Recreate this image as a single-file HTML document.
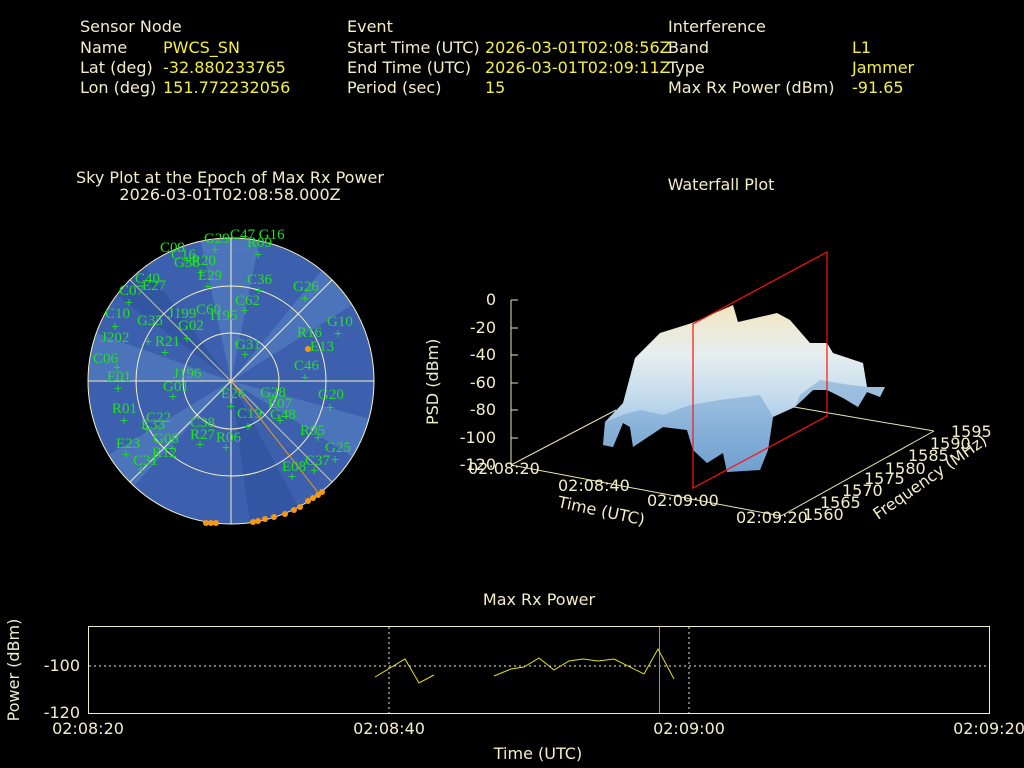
<!DOCTYPE html>
<html><head><meta charset="utf-8"><style>
body{margin:0;background:#000;width:1024px;height:768px;overflow:hidden;font-family:"DejaVu Sans","Liberation Sans",sans-serif}
svg{position:absolute;left:0;top:0}
</style></head><body>
<svg width="1024" height="768" viewBox="0 0 1024 768" font-family="DejaVu Sans, Liberation Sans, sans-serif">
<defs>
<linearGradient id="surf" x1="0" y1="0" x2="0" y2="1">
<stop offset="0" stop-color="#f3e6c0"/><stop offset="0.3" stop-color="#e6eef0"/><stop offset="0.6" stop-color="#bcd7ec"/><stop offset="1" stop-color="#6f9ecf"/>
</linearGradient>
<clipPath id="sky"><circle cx="231" cy="381" r="143"/></clipPath>
</defs>
<g font-size="16" fill="#f2eec8">
<text x="80" y="32">Sensor Node</text><text x="80" y="53">Name</text><text x="80" y="73">Lat (deg)</text><text x="80" y="93">Lon (deg)</text>
<text x="347" y="32">Event</text><text x="347" y="53">Start Time (UTC)</text><text x="347" y="73">End Time (UTC)</text><text x="347" y="93">Period (sec)</text>
<text x="668" y="32">Interference</text><text x="668" y="53">Band</text><text x="668" y="73">Type</text><text x="668" y="93">Max Rx Power (dBm)</text>
</g>
<g font-size="16" fill="#f5f03a">
<text x="163" y="53">PWCS_SN</text><text x="163" y="73">-32.880233765</text><text x="163" y="93">151.772232056</text>
<text x="485" y="53">2026-03-01T02:08:56Z</text><text x="485" y="73">2026-03-01T02:09:11Z</text><text x="485" y="93">15</text>
<text x="852" y="53">L1</text><text x="852" y="73">Jammer</text><text x="852" y="93">-91.65</text>
</g>
<g font-size="16" fill="#f2eec8" text-anchor="middle">
<text x="230" y="183">Sky Plot at the Epoch of Max Rx Power</text>
<text x="230" y="200">2026-03-01T02:08:58.000Z</text>
<text x="721" y="190">Waterfall Plot</text>
<text x="539" y="605">Max Rx Power</text>
<text x="538" y="759">Time (UTC)</text>
</g>
<!-- sky plot -->
<circle cx="231" cy="381" r="143" fill="#3c60ae"/>
<g clip-path="url(#sky)" opacity="0.55">
<path d="M231 381 L200 238 L260 238Z" fill="#5a86c6"/>
<path d="M231 381 L330 260 L360 300Z" fill="#5a86c6"/>
<path d="M231 381 L88 330 L88 380Z" fill="#5a86c6"/>
<path d="M231 381 L250 524 L300 510Z" fill="#2d4f9c"/>
<path d="M231 381 L100 460 L130 490Z" fill="#5a86c6"/>
<path d="M231 381 L374 420 L374 470Z" fill="#5a86c6"/>
<path d="M231 381 L140 260 L110 290Z" fill="#2d4f9c"/>
</g>
<g fill="none" stroke="#f7f2c0" stroke-width="1">
<circle cx="231" cy="381" r="143"/><circle cx="231" cy="381" r="95"/><circle cx="231" cy="381" r="48"/>
<line x1="88" y1="381" x2="374" y2="381"/><line x1="231" y1="238" x2="231" y2="524"/>
<line x1="130" y1="280" x2="332" y2="482" opacity="0.7"/><line x1="130" y1="482" x2="332" y2="280"/>
</g>
<line x1="231" y1="381" x2="320" y2="495" stroke="#f59a10"/>
<g fill="#f59a10">
<circle cx="308" cy="349" r="3"/>
<circle cx="206" cy="523" r="3"/><circle cx="211" cy="523" r="3"/><circle cx="216" cy="523" r="3"/><circle cx="253" cy="522" r="3"/><circle cx="258" cy="521" r="3"/><circle cx="265" cy="519" r="3"/><circle cx="274" cy="517" r="3"/><circle cx="285" cy="514" r="3"/><circle cx="294" cy="510" r="3"/><circle cx="300" cy="507" r="3"/><circle cx="308" cy="501" r="3"/><circle cx="313" cy="498" r="3"/><circle cx="318" cy="495" r="3"/><circle cx="322" cy="492" r="3"/>
</g>
<g font-family="Liberation Serif, serif" font-size="15" fill="#22e022">
<text x="230" y="239">C47 G16</text><text x="204" y="243">G29</text><text x="247" y="247">R09</text><text x="160" y="252">C09</text><text x="171" y="259">C16</text><text x="174" y="267">G38</text><text x="191" y="265">R20</text><text x="198" y="280">E29</text><text x="247" y="284">C36</text><text x="135" y="283">C40</text><text x="142" y="290">E27</text><text x="119" y="295">C07</text><text x="293" y="291">G26</text><text x="105" y="318">C10</text><text x="137" y="325">G35</text><text x="168" y="318">J199</text><text x="196" y="314">C60</text><text x="235" y="305">C62</text><text x="210" y="320">I195</text><text x="178" y="330">G02</text><text x="327" y="326">G10</text><text x="297" y="337">R16</text><text x="310" y="351">E13</text><text x="155" y="346">R21</text><text x="101" y="342">J202</text><text x="235" y="349">G31</text><text x="93" y="363">C06</text><text x="294" y="370">C46</text><text x="173" y="378">J196</text><text x="107" y="381">E01</text><text x="163" y="391">G01</text><text x="221" y="398">E26</text><text x="260" y="397">G28</text><text x="268" y="408">E07</text><text x="318" y="399">G20</text><text x="237" y="418">C19</text><text x="270" y="419">G48</text><text x="112" y="413">R01</text><text x="146" y="422">C22</text><text x="141" y="429">E33</text><text x="190" y="427">C38</text><text x="190" y="439">R27</text><text x="216" y="442">R06</text><text x="300" y="435">R05</text><text x="305" y="465">C37</text><text x="325" y="452">G25</text><text x="116" y="448">E23</text><text x="153" y="443">G08</text><text x="152" y="457">R12</text><text x="133" y="465">C31</text><text x="282" y="471">E08</text>
</g>
<g font-size="11" fill="#22e022" text-anchor="middle">
<text x="215" y="253">+</text><text x="258" y="258">+</text><text x="187" y="264">+</text><text x="201" y="276">+</text><text x="208" y="290">+</text><text x="259" y="294">+</text><text x="129" y="306">+</text><text x="305" y="302">+</text><text x="115" y="330">+</text><text x="148" y="345">+</text><text x="187" y="342">+</text><text x="245" y="314">+</text><text x="338" y="337">+</text><text x="165" y="356">+</text><text x="245" y="358">+</text><text x="117" y="371">+</text><text x="305" y="381">+</text><text x="118" y="392">+</text><text x="173" y="400">+</text><text x="231" y="410">+</text><text x="330" y="411">+</text><text x="280" y="424">+</text><text x="248" y="430">+</text><text x="124" y="424">+</text><text x="147" y="433">+</text><text x="200" y="448">+</text><text x="172" y="452">+</text><text x="126" y="458">+</text><text x="226" y="451">+</text><text x="318" y="441">+</text><text x="335" y="463">+</text><text x="141" y="473">+</text><text x="292" y="480">+</text><text x="314" y="474">+</text>
</g>
<!-- waterfall -->
<g stroke="#e8e4b0" fill="none" stroke-width="1">
<line x1="511" y1="300" x2="511" y2="465"/>
<line x1="511" y1="465" x2="781" y2="516"/>
<line x1="781" y1="516" x2="934" y2="431"/>
<line x1="934" y1="431" x2="794" y2="407"/>
<line x1="511" y1="465" x2="616" y2="410"/>
</g>
<g stroke="#e8e4b0" stroke-width="1">
<line x1="511" y1="300" x2="518" y2="300"/><line x1="511" y1="328" x2="518" y2="328"/><line x1="511" y1="355" x2="518" y2="355"/><line x1="511" y1="383" x2="518" y2="383"/><line x1="511" y1="410" x2="518" y2="410"/><line x1="511" y1="438" x2="518" y2="438"/>
</g>
<path d="M603 445 L605 422 L623 403 L635 358 L660 333 L692 323 L733 305 L738 322 L777 313 L790 320 L810 343 L827 343 L833 353 L863 363 L867 387 L885 387 L880 397 L867 392 L858 407 L843 398 L827 390 L813 390 L795 407 L773 417 L768 450 L760 470 L727 472 L723 453 L707 463 L693 450 L687 430 L663 427 L633 447 L630 427 L623 423 L613 447 Z" fill="url(#surf)"/>
<path d="M603 445 L605 422 L623 415 L640 410 L663 415 L690 405 L720 400 L760 395 L773 417 L768 450 L760 470 L727 472 L723 453 L707 463 L693 450 L687 430 L663 427 L633 447 L630 427 L623 423 L613 447 Z" fill="#6f9fd0" opacity="0.5"/>
<path d="M795 407 L813 390 L827 390 L843 398 L858 407 L867 392 L880 397 L885 387 L867 387 L850 385 L820 380 L800 395Z" fill="#6f9fd0" opacity="0.5"/>
<g stroke="#ff1010" fill="none" stroke-width="1.2"><path d="M693 488 L827 416 L827 252 L693 324 Z"/></g>
<g font-size="16" fill="#f2eec8" text-anchor="end">
<text x="496" y="305">0</text><text x="496" y="333">-20</text><text x="496" y="360">-40</text><text x="496" y="388">-60</text><text x="496" y="415">-80</text><text x="496" y="443">-100</text><text x="496" y="470">-120</text>
</g>
<g font-size="16" fill="#f2eec8">
<text x="468" y="474">02:08:20</text><text x="558" y="491">02:08:40</text><text x="647" y="506">02:09:00</text><text x="736" y="523">02:09:20</text>
<text x="951" y="437">1595</text><text x="930" y="449">1590</text><text x="908" y="461">1585</text><text x="885" y="474">1580</text><text x="864" y="484">1575</text><text x="842" y="496">1570</text><text x="820" y="508">1565</text><text x="803" y="520">1560</text>
<text x="557" y="507" transform="rotate(12 557 507)">Time (UTC)</text>
<text x="878" y="520" transform="rotate(-35 878 520)">Frequency (MHz)</text>
<text x="438" y="425" transform="rotate(-90 438 425)">PSD (dBm)</text>
</g>
<!-- max rx -->
<rect x="88.5" y="626.5" width="901" height="87" fill="none" stroke="#f2eec8"/>
<g stroke="#f2eec8" stroke-dasharray="2,3" stroke-width="1">
<line x1="89" y1="666" x2="989" y2="666"/><line x1="389" y1="627" x2="389" y2="713"/><line x1="689" y1="627" x2="689" y2="713"/>
</g>
<line x1="659.5" y1="627" x2="659.5" y2="713" stroke="#909090"/>
<polyline points="375,677 405,659 419,683 434,675" fill="none" stroke="#e6e020"/>
<polyline points="494,676 511,669 524,667 539,658 554,670 569,661 583,659 598,661 614,659 644,674 658,649 674,679" fill="none" stroke="#e6e020"/>
<g font-size="16" fill="#f2eec8">
<text x="80" y="671" text-anchor="end">-100</text><text x="80" y="718" text-anchor="end">-120</text>
<text x="88" y="734" text-anchor="middle">02:08:20</text><text x="389" y="734" text-anchor="middle">02:08:40</text><text x="689" y="734" text-anchor="middle">02:09:00</text><text x="989" y="734" text-anchor="middle">02:09:20</text>
<text x="19" y="670" text-anchor="middle" transform="rotate(-90 19 670)">Power (dBm)</text>
</g>
</svg>
</body></html>
